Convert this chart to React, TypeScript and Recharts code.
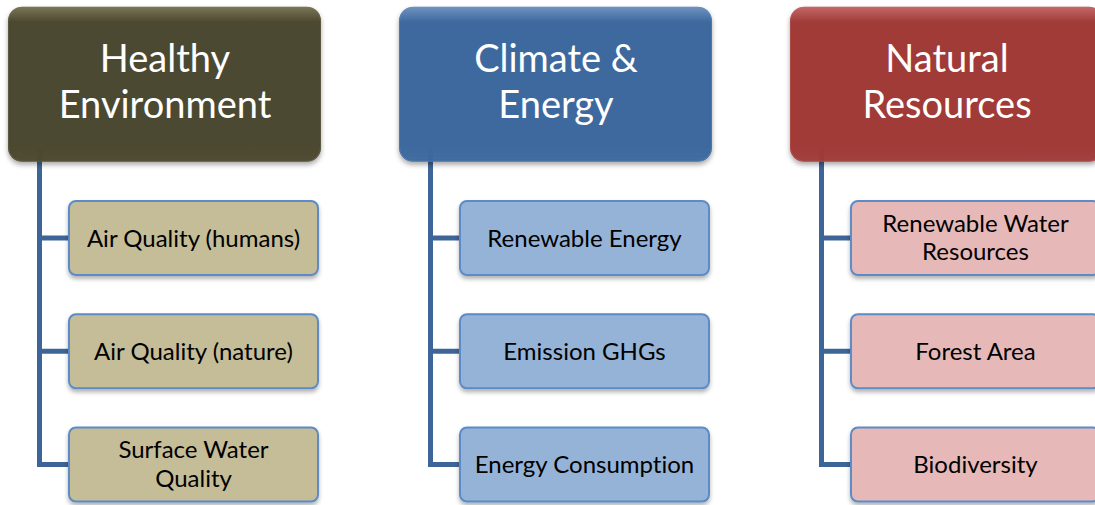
import React from 'react';
import { ScatterChart, Scatter, XAxis, YAxis } from 'recharts';

// ---- Data ----
const groups = ['Healthy\nEnvironment', 'Climate &\nEnergy', 'Natural\nResources'];
const healthyItems = ['Air Quality (humans)', 'Air Quality (nature)', 'Surface Water\nQuality'];
const climateItems = ['Renewable Energy', 'Emission GHGs', 'Energy Consumption'];
const naturalItems = ['Renewable Water\nResources', 'Forest Area', 'Biodiversity'];
const itemLists = [healthyItems, climateItems, naturalItems];

const headerData = groups.map((label, col) => ({ col, row: 0, label }));
const itemData = itemLists.flatMap((items, col) =>
  items.map((label, i) => ({ col, row: i + 1, label }))
);

// ---- Layout / style ----
const W = 1095;
const H = 505;
const X0 = 8;
const COL_STEP = 391;
const ROW0 = 124.75;
const ROW_STEP = 113.25;

const headerColors = ['#4c4830', '#3d699e', '#a03b39'];
const headerLight = ['#7a7658', '#6f93c0', '#c46866'];
const itemFills = ['#c4bd97', '#95b3d7', '#e6b9b8'];
const lineColor = '#3e6597';
const borderColor = '#5b8bc6';
const FONT = 'Lato, "Open Sans", sans-serif';
const textStyle = { fontVariantLigatures: 'none' as const };

const HeaderShape = (props: any) => {
  const { cx, cy, payload } = props;
  const col = payload.col;
  const x = cx;
  const y = cy - 118;
  const w = 313;
  const h = 155;
  const lines = String(payload.label).split('\n');
  return (
    <g>
      <rect x={x} y={y} width={w} height={h} rx={14} ry={14}
        fill={`url(#hg${col})`} filter="url(#shadowH)" />
      <rect x={x + 0.5} y={y + 0.5} width={w - 1} height={h - 1} rx={14} ry={14}
        fill="none" stroke={headerLight[col]} strokeOpacity={0.35} strokeWidth={1} />
      {lines.map((t, i) => (
        <text key={i} x={x + w / 2 + 0.5} y={cy - 52.5 + i * 46} textAnchor="middle"
          fill="#ffffff" fontFamily={FONT} fontSize={38} style={textStyle}>{t}</text>
      ))}
    </g>
  );
};

const ItemShape = (props: any) => {
  const { cx, cy, payload } = props;
  const col = payload.col;
  const lineX = cx + 31.5;
  const bx = cx + 61;
  const bw = 249;
  const bh = 74;
  const lines = String(payload.label).split('\n');
  const startY = lines.length > 1 ? cy - 6.5 : cy + 8.5;
  return (
    <g>
      <line x1={lineX} y1={cy - ROW_STEP} x2={lineX} y2={cy + 2.5}
        stroke={lineColor} strokeWidth={5} />
      <line x1={lineX - 2.5} y1={cy} x2={bx} y2={cy} stroke={lineColor} strokeWidth={5} />
      <rect x={bx} y={cy - bh / 2} width={bw} height={bh} rx={7} ry={7}
        fill={`url(#ig${col})`} stroke={borderColor} strokeWidth={2} filter="url(#shadowI)" />
      {lines.map((t, i) => (
        <text key={i} x={bx + bw / 2} y={startY + i * 28.5} textAnchor="middle"
          fill="#000000" fontFamily={FONT} fontSize={24} style={textStyle}>{t}</text>
      ))}
    </g>
  );
};

export default function App() {
  return (
    <div style={{ position: 'absolute', left: 0, top: 0, width: W, height: H, background: '#ffffff' }}>
      <ScatterChart width={W} height={H} margin={{ top: 0, right: 0, bottom: 0, left: 0 }}>
        <defs>
          {headerColors.map((c, i) => (
            <linearGradient key={i} id={`hg${i}`} x1="0" y1="0" x2="0" y2="1">
              <stop offset="0" stopColor={headerLight[i]} />
              <stop offset="0.1" stopColor={c} />
              <stop offset="0.9" stopColor={c} />
              <stop offset="1" stopColor={c} stopOpacity={0.95} />
            </linearGradient>
          ))}
          {itemFills.map((c, i) => (
            <linearGradient key={i} id={`ig${i}`} x1="0" y1="0" x2="0" y2="1">
              <stop offset="0" stopColor={c} />
              <stop offset="1" stopColor={c} />
            </linearGradient>
          ))}
          <filter id="shadowH" x="-10%" y="-10%" width="120%" height="130%">
            <feDropShadow dx="0" dy="3" stdDeviation="2.5" floodColor="#000" floodOpacity="0.35" />
          </filter>
          <filter id="shadowI" x="-10%" y="-10%" width="120%" height="140%">
            <feDropShadow dx="0" dy="3" stdDeviation="2" floodColor="#000" floodOpacity="0.3" />
          </filter>
        </defs>
        <XAxis type="number" dataKey="col" hide allowDataOverflow
          domain={[-X0 / COL_STEP, (W - X0) / COL_STEP]} />
        <YAxis type="number" dataKey="row" hide reversed allowDataOverflow
          domain={[-ROW0 / ROW_STEP, (H - ROW0) / ROW_STEP]} />
        <Scatter data={itemData} shape={ItemShape} isAnimationActive={false} />
        <Scatter data={headerData} shape={HeaderShape} isAnimationActive={false} />
      </ScatterChart>
    </div>
  );
}
